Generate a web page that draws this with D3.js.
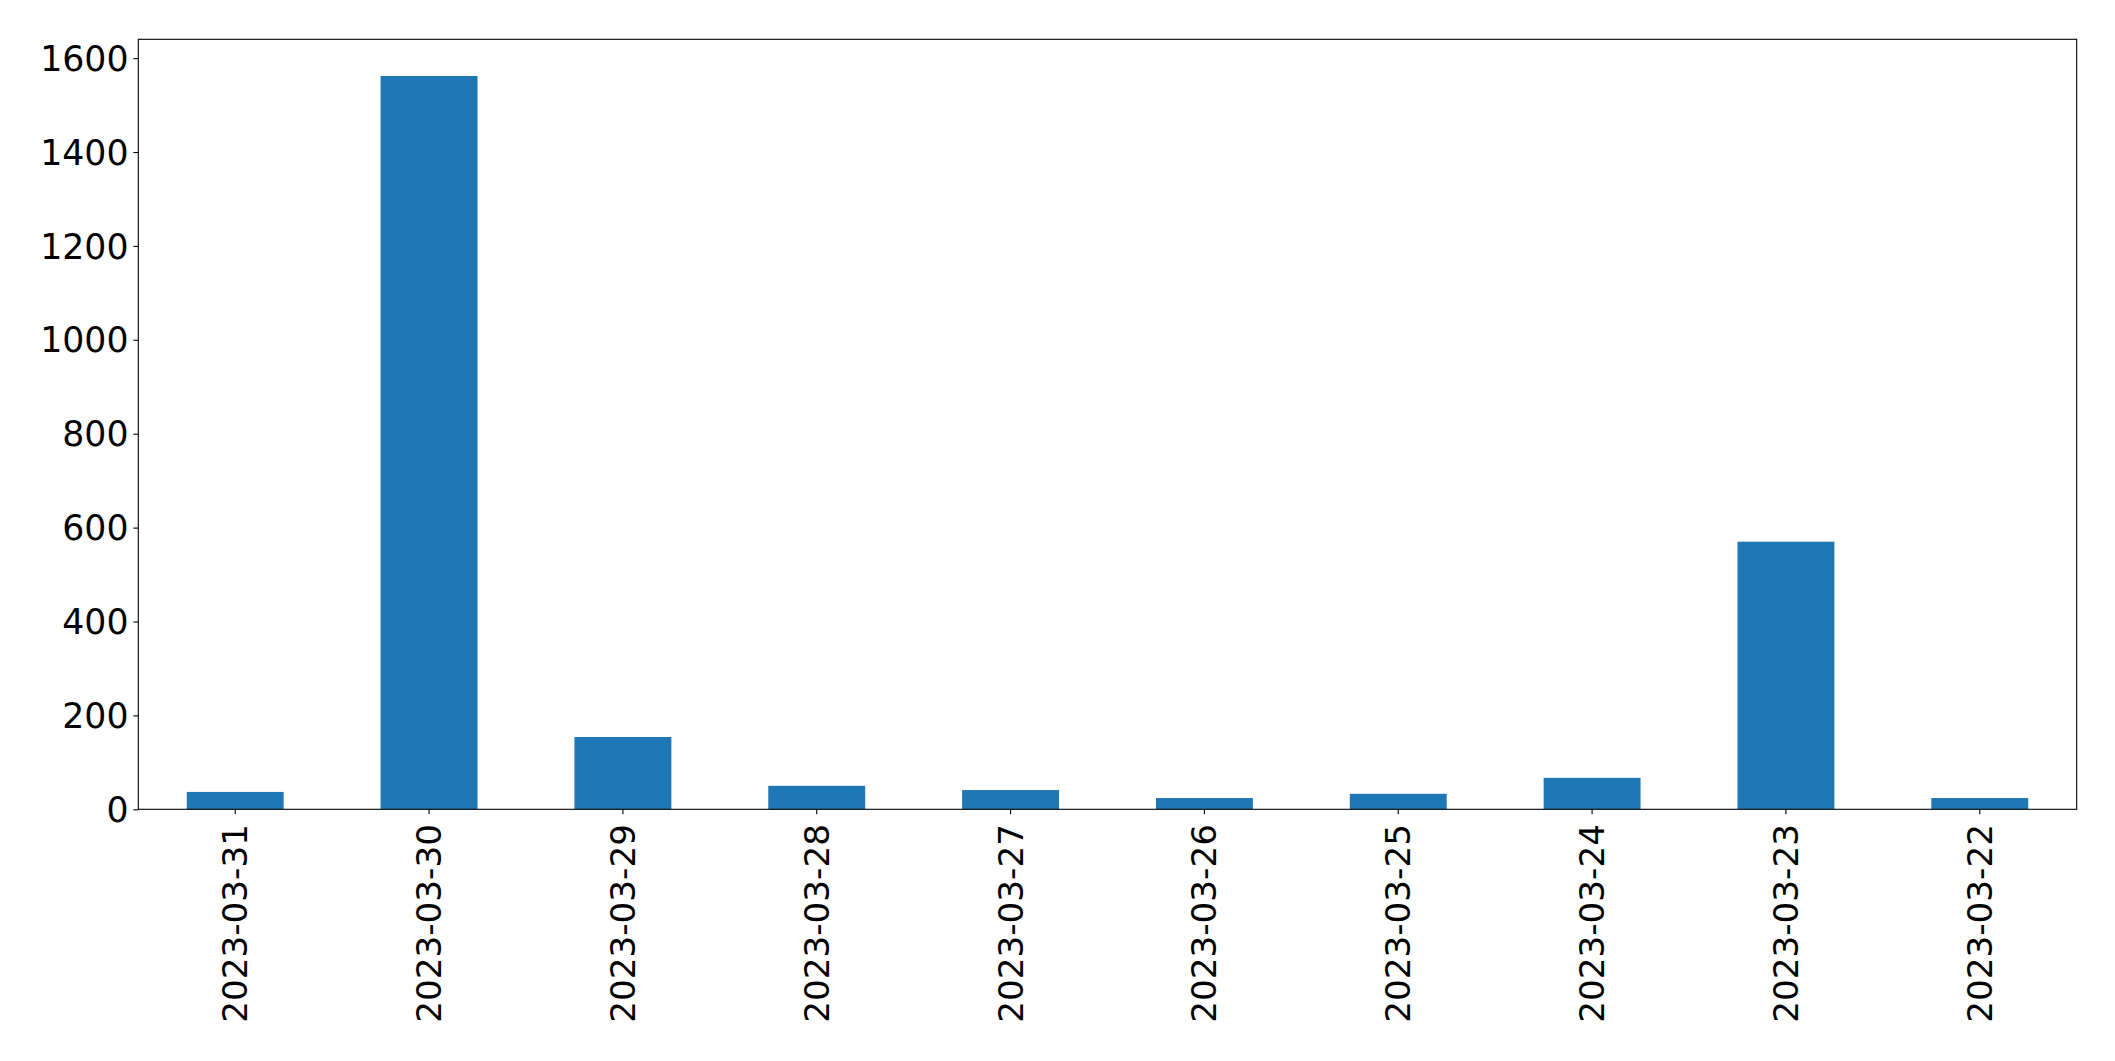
<!DOCTYPE html>
<html>
<head>
<meta charset="utf-8">
<script src="https://cdn.jsdelivr.net/npm/d3@7"></script>
<style>
  html, body { margin: 0; padding: 0; background: #fff; }
  svg { display: block; }
  text { font-family: "DejaVu Sans", sans-serif; fill: #000; }
</style>
</head>
<body>
<svg id="chart" width="2115" height="1061"></svg>
<script>
const categories = ["2023-03-31","2023-03-30","2023-03-29","2023-03-28","2023-03-27","2023-03-26","2023-03-25","2023-03-24","2023-03-23","2023-03-22"];
const values = [37, 1562, 154, 50, 41, 24, 33, 67, 570, 24];
const yTicks = [0, 200, 400, 600, 800, 1000, 1200, 1400, 1600];

const W = 2115, H = 1061;
const plotLeft = 138.3, plotRight = 2076.7, plotTop = 39.3, plotBottom = 809.3;
const fontSize = 34.7, xFontSize = 34.2, tickLen = 4.9, pad = 4.9;

const svg = d3.select("#chart");

const x = d3.scaleBand().domain(categories).range([plotLeft, plotRight]).paddingInner(0.5).paddingOuter(0.25);
const y = d3.scaleLinear().domain([0, d3.max(values) * 1.05]).range([plotBottom, plotTop]);

svg.append("g").selectAll("rect").data(values).join("rect")
  .attr("x", (d, i) => x(categories[i]))
  .attr("width", x.bandwidth())
  .attr("y", d => y(d))
  .attr("height", d => y(0) - y(d))
  .attr("fill", "#1f77b4");

// Y axis
const yAxis = d3.axisLeft(y).tickValues(yTicks).tickSize(tickLen).tickPadding(pad).tickFormat(d3.format("d"));
const gy = svg.append("g").attr("transform", `translate(${plotLeft},0)`).call(yAxis);
gy.select(".domain").remove();
gy.selectAll(".tick line").attr("stroke", "#000").attr("stroke-width", 1.1);
gy.selectAll(".tick text").style("font-size", fontSize + "px").attr("dy", "0.35em");

// X axis
const xAxis = d3.axisBottom(x).tickSize(tickLen).tickPadding(pad);
const gx = svg.append("g").attr("transform", `translate(0,${plotBottom})`).call(xAxis);
gx.select(".domain").remove();
gx.selectAll(".tick line").attr("stroke", "#000").attr("stroke-width", 1.1);
gx.selectAll(".tick text")
  .style("font-size", xFontSize + "px")
  .attr("x", 0).attr("y", 0).attr("dy", null)
  .attr("text-anchor", "end")
  .attr("dominant-baseline", "central")
  .attr("transform", `translate(0,${tickLen + pad + 5}) rotate(-90)`);

// Frame
svg.append("rect")
  .attr("x", plotLeft).attr("y", plotTop)
  .attr("width", plotRight - plotLeft).attr("height", plotBottom - plotTop)
  .attr("fill", "none").attr("stroke", "#000").attr("stroke-width", 1.1);
</script>
</body>
</html>
